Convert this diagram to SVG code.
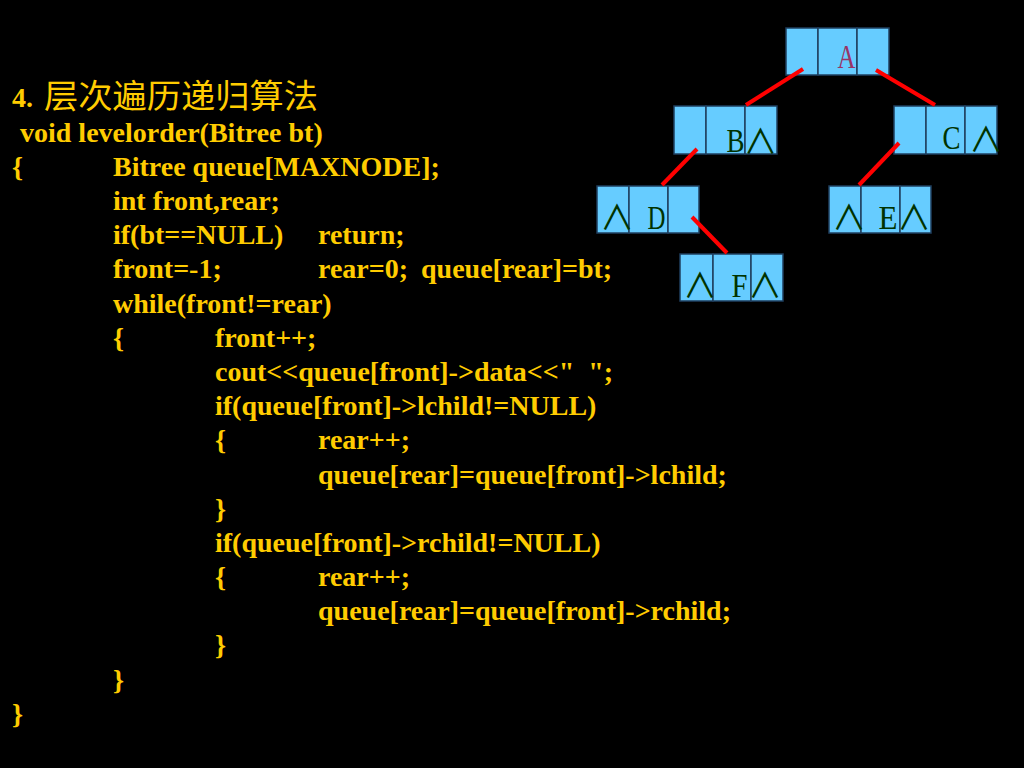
<svg xmlns="http://www.w3.org/2000/svg" width="1024" height="768" viewBox="0 0 1024 768">
<style>
.code{font-family:"Liberation Serif","Times New Roman",serif;font-weight:bold;font-size:28px;fill:#FFCC00;white-space:pre}
.title{font-family:"Noto Sans CJK SC",sans-serif;font-size:33px;fill:#FFCC00}
.cell{fill:#66CCFF;stroke:#1F3F5F;stroke-width:1.5}
.lbl{font-family:"Liberation Serif","Times New Roman",serif;font-size:34px;fill:#003300;text-anchor:middle}
.nil{font-family:"Noto Sans CJK SC",sans-serif;font-size:34px;fill:#003300;text-anchor:middle}
.edge{stroke:#FF0000;stroke-width:4;stroke-linecap:butt}
</style>
<rect x="0" y="0" width="1024" height="768" fill="#000000"/>
<g id="code">
<text x="12" y="107" class="code">4.</text>
<text x="44" y="108" class="title" textLength="274" lengthAdjust="spacingAndGlyphs">层次遍历递归算法</text>
<text x="20" y="142" class="code">void levelorder(Bitree bt)</text>
<text y="176" class="code"><tspan x="12">{</tspan><tspan x="113">Bitree queue[MAXNODE];</tspan></text>
<text x="113" y="210" class="code">int front,rear;</text>
<text y="244" class="code"><tspan x="113">if(bt==NULL)</tspan><tspan x="318">return;</tspan></text>
<text y="278" class="code"><tspan x="113">front=-1;</tspan><tspan x="318">rear=0;</tspan><tspan x="421">queue[rear]=bt;</tspan></text>
<text x="113" y="313" class="code">while(front!=rear)</text>
<text y="347" class="code"><tspan x="113">{</tspan><tspan x="215">front++;</tspan></text>
<text x="215" y="381" class="code" xml:space="preserve">cout&lt;&lt;queue[front]-&gt;data&lt;&lt;"  ";</text>
<text x="215" y="415" class="code">if(queue[front]-&gt;lchild!=NULL)</text>
<text y="449" class="code"><tspan x="215">{</tspan><tspan x="318">rear++;</tspan></text>
<text x="318" y="484" class="code">queue[rear]=queue[front]-&gt;lchild;</text>
<text x="215" y="518" class="code">}</text>
<text x="215" y="552" class="code">if(queue[front]-&gt;rchild!=NULL)</text>
<text y="586" class="code"><tspan x="215">{</tspan><tspan x="318">rear++;</tspan></text>
<text x="318" y="620" class="code">queue[rear]=queue[front]-&gt;rchild;</text>
<text x="215" y="654" class="code">}</text>
<text x="113" y="689" class="code">}</text>
<text x="12" y="723" class="code">}</text>
</g>
<g id="node-A">
<rect class="cell" x="786" y="28" width="32" height="47"/>
<rect class="cell" x="818" y="28" width="39" height="47"/>
<rect class="cell" x="857" y="28" width="32" height="47"/>
<text class="lbl" x="846.5" y="68" textLength="18" lengthAdjust="spacingAndGlyphs" style="fill:#993366">A</text>
</g>
<g id="node-B">
<rect class="cell" x="674" y="106" width="32" height="48"/>
<rect class="cell" x="706" y="106" width="39" height="48"/>
<rect class="cell" x="745" y="106" width="32" height="48"/>
<text class="lbl" x="735.5" y="152" textLength="18" lengthAdjust="spacingAndGlyphs">B</text>
<text class="nil" x="760.5" y="154">∧</text>
</g>
<g id="node-C">
<rect class="cell" x="894" y="106" width="32" height="48"/>
<rect class="cell" x="926" y="106" width="39" height="48"/>
<rect class="cell" x="965" y="106" width="32" height="48"/>
<text class="lbl" x="951.5" y="149" textLength="18" lengthAdjust="spacingAndGlyphs">C</text>
<text class="nil" x="986" y="152">∧</text>
</g>
<g id="node-D">
<rect class="cell" x="597" y="186" width="32" height="47"/>
<rect class="cell" x="629" y="186" width="39" height="47"/>
<rect class="cell" x="668" y="186" width="31" height="47"/>
<text class="nil" x="617" y="230">∧</text>
<text class="lbl" x="656.5" y="229" textLength="18" lengthAdjust="spacingAndGlyphs">D</text>
</g>
<g id="node-E">
<rect class="cell" x="829" y="186" width="32" height="47"/>
<rect class="cell" x="861" y="186" width="39" height="47"/>
<rect class="cell" x="900" y="186" width="31" height="47"/>
<text class="nil" x="849" y="230">∧</text>
<text class="lbl" x="888" y="229" textLength="19" lengthAdjust="spacingAndGlyphs">E</text>
<text class="nil" x="914" y="230">∧</text>
</g>
<g id="node-F">
<rect class="cell" x="680" y="254" width="33" height="47"/>
<rect class="cell" x="713" y="254" width="38" height="47"/>
<rect class="cell" x="751" y="254" width="32" height="47"/>
<text class="nil" x="700" y="298">∧</text>
<text class="lbl" x="739.5" y="297" textLength="16" lengthAdjust="spacingAndGlyphs">F</text>
<text class="nil" x="765" y="298">∧</text>
</g>
<g id="connectors">
<line class="edge" x1="803" y1="69" x2="746" y2="105"/>
<line class="edge" x1="876" y1="70" x2="935" y2="105"/>
<line class="edge" x1="697" y1="149" x2="662" y2="185"/>
<line class="edge" x1="899" y1="143" x2="859" y2="185"/>
<line class="edge" x1="692" y1="217" x2="727" y2="253"/>
</g>
</svg>
